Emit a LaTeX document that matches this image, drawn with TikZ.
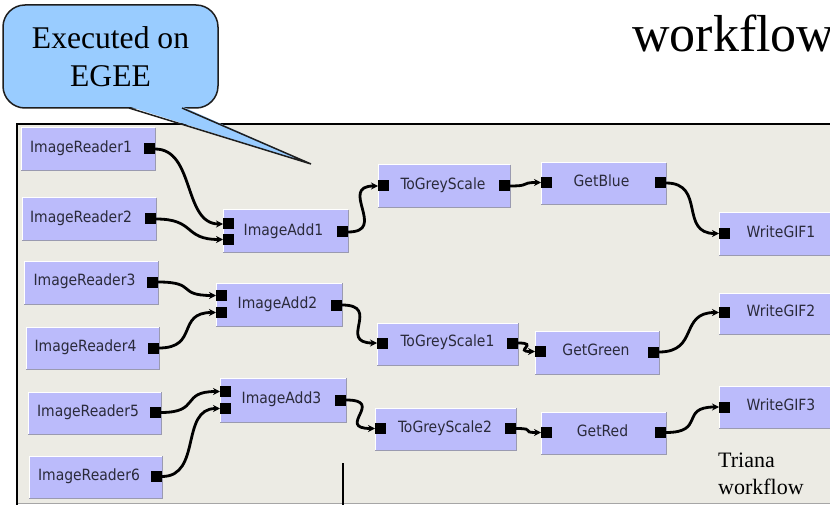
\documentclass[tikz,border=0pt]{standalone}
\usepackage{fontspec}
\setmainfont{Liberation Serif}
\newfontfamily\modfont{DejaVu Sans Condensed}
\usetikzlibrary{arrows.meta}

\definecolor{panelgray}{HTML}{ECEBE4}
\definecolor{modfill}{HTML}{BBBBFB}
\definecolor{modshade}{HTML}{9A9AB0}
\definecolor{modtextc}{HTML}{2A2A3A}
\definecolor{bubblefill}{HTML}{99CCFF}
\definecolor{bubbleline}{HTML}{1E1E1E}

\tikzset{
  modbox/.style={rectangle, fill=modfill, draw=none, inner sep=0pt, outer sep=0pt},
  modlabel/.style={font=\modfont\fontsize{15.5}{17}\selectfont, text=modtextc, inner sep=0pt, anchor=mid},
  port/.style={rectangle, fill=black, minimum size=11pt, inner sep=0pt, outer sep=0pt},
  wire/.style={line width=2.8pt, -{Stealth[length=7pt,width=7pt]},
    out=0, in=180, out distance=40pt, in distance=40pt},
  hilite/.style={white, line width=1pt},
  lowlite/.style={modshade, line width=1pt},
  bubble/.style={rectangle, rounded corners=22pt, fill=bubblefill, draw=bubbleline,
    line width=1.5pt, align=center, font=\fontsize{31.6}{38}\selectfont, inner sep=0pt},
  bigtext/.style={font=\fontsize{52}{56}\selectfont, inner sep=0pt, anchor=base west},
  notetext/.style={font=\fontsize{22}{27}\selectfont, inner sep=0pt, anchor=base west}
}

% a workflow unit: name, left, top, right, bottom
\newcommand\wfunit[5]{%
  \node[modbox, minimum width={(#4)-(#2)}, minimum height={(#5)-(#3)}]
    (#1) at ({((#2)+(#4))/2},{((#3)+(#5))/2}) {};
  \draw[hilite] (#1.south west) -- (#1.north west) -- (#1.north east);
  \draw[lowlite] (#1.south west) -- (#1.south east) -- (#1.north east);
}

\begin{document}
\begin{tikzpicture}[x=1pt, y=-1pt]
  \useasboundingbox (0,0) rectangle (830,505);
  \clip (0,0) rectangle (830,505);
  \fill[white] (0,0) rectangle (830,505);

  % Triana canvas
  \fill[panelgray] (17,124) rectangle (845,503);
  \draw[gray!70, line width=1pt] (17,503) -- (845,503);
  \draw[black, line width=1.6pt] (17,506) -- (17,124) -- (845,124);
  \draw[black, line width=1.4pt] (343,463) -- (343,506);

  % title fragment
  \node[bigtext] (title) at (632,52) {workflow};

  % units
  \wfunit{ir1}{21}{128}{155}{171}
  \wfunit{ir2}{22}{198}{156}{241}
  \wfunit{ir3}{24}{261}{158}{304}
  \wfunit{ir4}{26}{327}{159}{369}
  \wfunit{ir5}{28}{392}{161}{434}
  \wfunit{ir6}{29}{456}{162}{498}
  \wfunit{ia1}{223}{210}{348}{253}
  \wfunit{ia2}{216}{283}{342}{326}
  \wfunit{ia3}{220}{378}{346}{422}
  \wfunit{tg0}{378}{165}{510}{208}
  \wfunit{tg1}{377}{323}{518}{365}
  \wfunit{tg2}{375}{408}{516}{450}
  \wfunit{gb}{541}{163}{666}{205}
  \wfunit{gg}{535}{331}{659}{374}
  \wfunit{gr}{541}{412}{666}{454}
  \wfunit{w1}{719}{213}{845}{255}
  \wfunit{w2}{719}{293}{845}{334}
  \wfunit{w3}{719}{386}{845}{428}

  % unit labels
  \node[modlabel] (ir1t) at (81,150.5) {ImageReader1};
  \node[modlabel] (ir2t) at (81,220.5) {ImageReader2};
  \node[modlabel] (ir3t) at (84.5,283.5) {ImageReader3};
  \node[modlabel] (ir4t) at (85.5,349.5) {ImageReader4};
  \node[modlabel] (ir5t) at (88,414) {ImageReader5};
  \node[modlabel] (ir6t) at (89,478) {ImageReader6};
  \node[modlabel] (ia1t) at (283.5,233.5) {ImageAdd1};
  \node[modlabel] (ia2t) at (277.5,306.5) {ImageAdd2};
  \node[modlabel] (ia3t) at (281.5,401.5) {ImageAdd3};
  \node[modlabel] (tg0t) at (443,187.5) {ToGreyScale};
  \node[modlabel] (tg1t) at (447.5,344.5) {ToGreyScale1};
  \node[modlabel] (tg2t) at (445,430) {ToGreyScale2};
  \node[modlabel] (gbt) at (601.5,184.5) {GetBlue};
  \node[modlabel] (ggt) at (596,353.5) {GetGreen};
  \node[modlabel] (grt) at (602.5,434.5) {GetRed};
  \node[modlabel] (w1t) at (781,235) {WriteGIF1};
  \node[modlabel] (w2t) at (781,314) {WriteGIF2};
  \node[modlabel] (w3t) at (781,408.5) {WriteGIF3};

  % ports
  \node[port] (ir1o) at (149.5,149) {};
  \node[port] (ir2o) at (150.5,219) {};
  \node[port] (ir3o) at (152.5,282) {};
  \node[port] (ir4o) at (153.5,348) {};
  \node[port] (ir5o) at (155.5,412.5) {};
  \node[port] (ir6o) at (156.5,476.5) {};
  \node[port] (ia1a) at (228.5,224) {};
  \node[port] (ia1b) at (228.5,239.5) {};
  \node[port] (ia1o) at (342.5,232) {};
  \node[port] (ia2a) at (221.5,295.5) {};
  \node[port] (ia2b) at (221.5,312.5) {};
  \node[port] (ia2o) at (336.5,305) {};
  \node[port] (ia3a) at (225.5,391.5) {};
  \node[port] (ia3b) at (225.5,408.5) {};
  \node[port] (ia3o) at (340.5,400) {};
  \node[port] (tg0i) at (383.5,186) {};
  \node[port] (tg0o) at (504.5,186) {};
  \node[port] (tg1i) at (382.5,343) {};
  \node[port] (tg1o) at (512.5,343) {};
  \node[port] (tg2i) at (380.5,428.5) {};
  \node[port] (tg2o) at (510.5,428.5) {};
  \node[port] (gbi) at (546.5,182.5) {};
  \node[port] (gbo) at (660.5,183) {};
  \node[port] (ggi) at (540.5,351.5) {};
  \node[port] (ggo) at (653.5,352) {};
  \node[port] (gri) at (546.5,432.5) {};
  \node[port] (gro) at (660.5,432.5) {};
  \node[port] (w1i) at (724.5,233.5) {};
  \node[port] (w2i) at (724.5,312.5) {};
  \node[port] (w3i) at (724.5,407) {};

  % cables
  \draw[wire] (ir1o.east) to (ia1a.west);
  \draw[wire] (ir2o.east) to (ia1b.west);
  \draw[wire] (ir3o.east) to (ia2a.west);
  \draw[wire] (ir4o.east) to (ia2b.west);
  \draw[wire] (ir5o.east) to (ia3a.west);
  \draw[wire] (ir6o.east) to (ia3b.west);
  \draw[wire] (ia1o.east) to (tg0i.west);
  \draw[wire] (ia2o.east) to (tg1i.west);
  \draw[wire] (ia3o.east) to (tg2i.west);
  \draw[wire, out distance=22pt, in distance=22pt] (tg0o.east) to (gbi.west);
  \draw[wire, out distance=22pt, in distance=22pt] (tg1o.east) to (ggi.west);
  \draw[wire, out distance=22pt, in distance=22pt] (tg2o.east) to (gri.west);
  \draw[wire] (gbo.east) to (w1i.west);
  \draw[wire] (ggo.east) to (w2i.west);
  \draw[wire] (gro.east) to (w3i.west);

  % note in the lower right corner
  \node[notetext] (note1) at (718,467) {Triana};
  \node[notetext] (note2) at (718,494) {workflow};

  % speech bubble
  \node[bubble, minimum width=215pt, minimum height=103pt] (bubble) at (110.5,56.5)
    {Executed on\\EGEE};
  \coordinate (tip) at (311,164);
  \fill[bubblefill] (129,106.4) -- (tip) -- (182,106.4) -- cycle;
  \draw[bubbleline, line width=1.5pt, line join=miter] (129,108) -- (tip) -- (182,108);
\end{tikzpicture}
\end{document}
